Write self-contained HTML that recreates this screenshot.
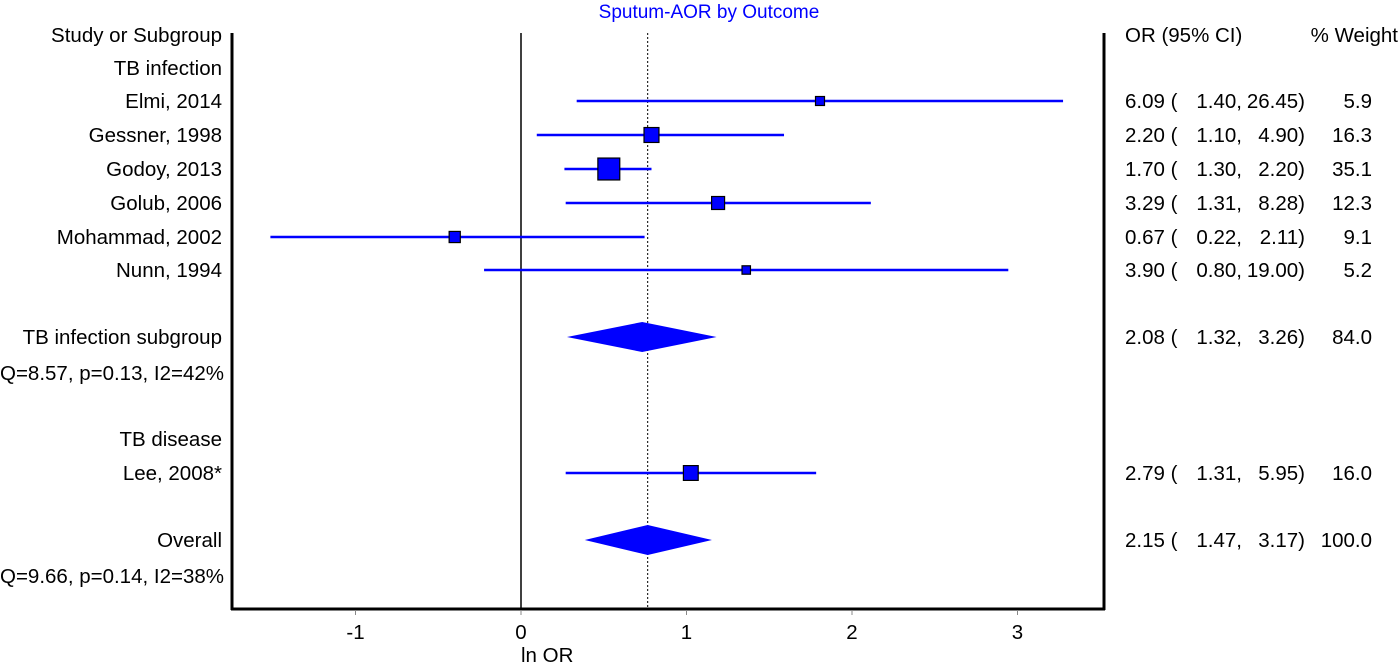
<!DOCTYPE html>
<html><head><meta charset="utf-8"><style>
body{margin:0;background:#fff;width:1400px;height:665px;overflow:hidden}
svg text{font-family:"Liberation Sans",Arial,sans-serif;font-size:20.5px;fill:#000}
</style></head><body>
<svg id="chart" width="1400" height="665" viewBox="0 0 1400 665" xmlns="http://www.w3.org/2000/svg">
<text x="709" y="18" text-anchor="middle" style="fill:#0000ff;font-size:19px">Sputum-AOR by Outcome</text>
<text x="222" y="42" text-anchor="end">Study or Subgroup</text>
<text x="1125" y="42">OR (95% CI)</text>
<text x="1398" y="42" text-anchor="end">% Weight</text>
<g id="frame">
<line x1="232" y1="33" x2="232" y2="610" stroke="#000" stroke-width="3"/>
<line x1="1104" y1="33" x2="1104" y2="610" stroke="#000" stroke-width="3"/>
<line x1="231" y1="609" x2="1105" y2="609" stroke="#000" stroke-width="3"/>
</g>
<g id="marks"></g>
<text x="521" y="662">ln OR</text>
</svg>
<script>
const labels=["TB infection","Elmi, 2014","Gessner, 1998","Godoy, 2013","Golub, 2006","Mohammad, 2002","Nunn, 1994","TB infection subgroup","Q=8.57, p=0.13, I2=42%","TB disease","Lee, 2008*","Overall","Q=9.66, p=0.14, I2=38%"];
const rowY=[68,101,135,169,203,237,270,337,373,439,473,540,576];
const kinds=["h","s","s","s","s","s","s","d","q","h","s","d","q"];
const orVals=[null,6.09,2.20,1.70,3.29,0.67,3.90,2.08,null,null,2.79,2.15,null];
const loVals=[null,1.40,1.10,1.30,1.31,0.22,0.80,1.32,null,null,1.31,1.47,null];
const hiVals=[null,26.45,4.90,2.20,8.28,2.11,19.00,3.26,null,null,5.95,3.17,null];
const weights=[null,5.9,16.3,35.1,12.3,9.1,5.2,84.0,null,null,16.0,100.0,null];
const ticks=[-1,0,1,2,3];
const overallOR=2.15;
const x=v=>521+165.5*v;
const g=document.getElementById('marks');
const NS='http://www.w3.org/2000/svg';
function mk(t,a){const e=document.createElementNS(NS,t);for(const k in a)e.setAttribute(k,a[k]);g.appendChild(e);return e;}
let e=mk('line',{x1:x(0),y1:33,x2:x(0),y2:609,stroke:'#000','stroke-width':1.5});


e=mk('line',{x1:x(Math.log(overallOR)),y1:33,x2:x(Math.log(overallOR)),y2:609,stroke:'#000','stroke-width':1,'stroke-dasharray':'2,2'});


ticks.forEach(t=>{
 let l=mk('line',{x1:x(t),y1:610,x2:x(t),y2:615,stroke:'#888','stroke-width':1});
 
 
 let tx=mk('text',{x:x(t),y:639,'text-anchor':'middle'});tx.textContent=String(t);
 
 
});
labels.forEach((lab,i)=>{
 const y=rowY[i],k=kinds[i];
 let t=mk('text',k==='q'?{x:0,y:y+7}:{x:222,y:y+7,'text-anchor':'end'});t.textContent=lab;
 
 
 if(orVals[i]==null)return;
 const m=Math.log(orVals[i]),lo=Math.log(loVals[i]),hi=Math.log(hiVals[i]);
 if(k==='s'){
  let l=mk('line',{x1:x(lo),y1:y,x2:x(hi),y2:y,stroke:'#0000ff','stroke-width':2.5});
  
  
  const s=3.7*Math.sqrt(weights[i]);
  let r=mk('rect',{x:x(m)-s/2,y:y-s/2,width:s,height:s,fill:'#0000ff',stroke:'#000','stroke-width':1.2});
  
  
 }else{
  let p=mk('polygon',{points:`${x(lo)},${y} ${x(m)},${y-15} ${x(hi)},${y} ${x(m)},${y+15}`,fill:'#0000ff'});
  
  
 }
 let o=mk('text',{x:1125,y:y+7});o.textContent=`${orVals[i].toFixed(2)} (`;
 
 
 let a=mk('text',{x:1242,y:y+7,'text-anchor':'end'});a.textContent=`${loVals[i].toFixed(2)},`;
 
 
 let b=mk('text',{x:1305,y:y+7,'text-anchor':'end'});b.textContent=`${hiVals[i].toFixed(2)})`;
 
 
 let w=mk('text',{x:1372,y:y+7,'text-anchor':'end'});w.textContent=weights[i].toFixed(1);
 
 
});
</script>
</body></html>
